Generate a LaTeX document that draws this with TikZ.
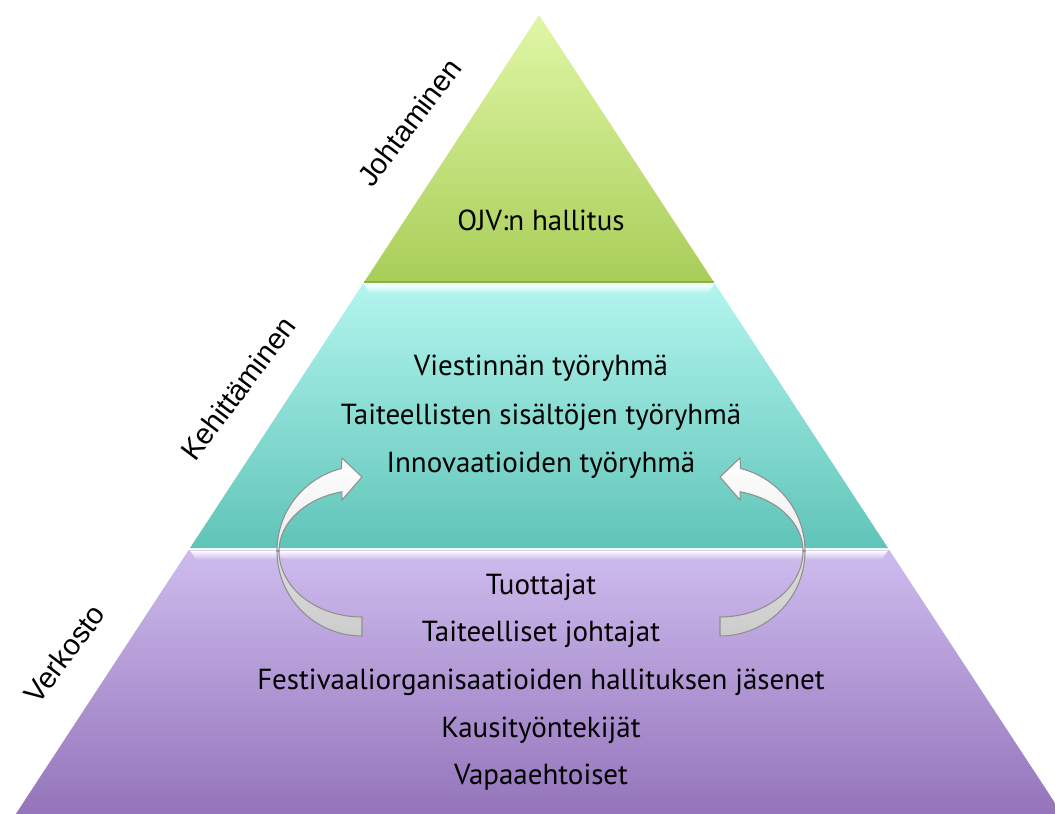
\documentclass[tikz,border=0pt]{standalone}
\usepackage{fontspec}
\setmainfont{PT Sans}
\newfontfamily\labelfont{Liberation Sans}
\definecolor{gTop}{HTML}{E0F7A6}
\definecolor{gBot}{HTML}{A9CD58}
\definecolor{gLine}{HTML}{8DB04A}
\definecolor{cTop}{HTML}{B2F5EE}
\definecolor{cBot}{HTML}{60C4B8}
\definecolor{pTop}{HTML}{CEBCEE}
\definecolor{pBot}{HTML}{9474BB}
\definecolor{arLine}{HTML}{8F8F8F}
\begin{document}
\begin{tikzpicture}[x=0.02cm,y=0.02cm,
  every node/.style={inner sep=0pt},
  tiertext/.style={font=\fontsize{16.5}{19}\selectfont, text=black},
  sidelabel/.style={font=\labelfont\fontsize{16.6}{19}\selectfont, rotate=53, anchor=base},
  arrowtop/.style={draw=arLine, line width=0.6pt, top color=white, bottom color=black!8},
  arrowbot/.style={draw=arLine, line width=0.6pt, top color=black!13, bottom color=black!20},
  hilite/.style={top color=white, bottom color=#1}]
\clip (0,0) rectangle (1055,-814);
\fill[white] (0,0) rectangle (1055,-814);
% tiers
\shade[top color=gTop, bottom color=gBot] (539,-15) -- (713.8,-282) -- (364.2,-282) -- cycle;
\draw[gLine, line width=0.8pt] (364.2,-282) -- (713.8,-282);
\shade[top color=cTop, bottom color=cBot] (362.9,-284) -- (715.1,-284) -- (888,-548) -- (190,-548) -- cycle;
\shade[hilite=cTop] (364,-284.5) -- (714,-284.5) -- (708,-293) -- (370,-293) -- cycle;
\shade[top color=pTop, bottom color=pBot] (188.7,-550) -- (889.3,-550) -- (1062.2,-814) -- (15.8,-814) -- cycle;
\shade[hilite=pTop] (190,-550.5) -- (888,-550.5) -- (882,-559) -- (196,-559) -- cycle;
% left curved arrow
\path[arrowbot] (277,-551) arc[start angle=180, end angle=270, radius=85]
  -- (362,-617) arc[start angle=270, end angle=180, x radius=83, y radius=66] -- cycle;
\path[arrowtop] (277,-551) arc[start angle=180, end angle=104, radius=85]
  -- (342,-458) -- (362,-477) -- (342,-500) -- (341.9,-491.8)
  arc[start angle=104, end angle=180, x radius=83, y radius=61] -- cycle;
% right curved arrow
\path[arrowbot] (805,-551) arc[start angle=0, end angle=-90, radius=85]
  -- (720,-617) arc[start angle=-90, end angle=0, x radius=83, y radius=66] -- cycle;
\path[arrowtop] (805,-551) arc[start angle=0, end angle=76, radius=85]
  -- (740,-458) -- (720,-477) -- (740,-500) -- (740.1,-491.8)
  arc[start angle=76, end angle=0, x radius=83, y radius=61] -- cycle;
% texts
\node[tiertext] (t1) at (541,-220) {OJV:n hallitus};
\node[tiertext] (m1) at (541,-368) {Viestinnän työryhmä};
\node[tiertext] (m2) at (541,-417) {Taiteellisten sisältöjen työryhmä};
\node[tiertext] (m3) at (541,-465) {Innovaatioiden työryhmä};
\node[tiertext] (b1) at (541,-587) {Tuottajat};
\node[tiertext] (b2) at (541,-634) {Taiteelliset johtajat};
\node[tiertext] (b3) at (541,-682) {Festivaaliorganisaatioiden hallituksen jäsenet};
\node[tiertext] (b4) at (541,-730) {Kausityöntekijät};
\node[tiertext] (b5) at (541,-777) {Vapaaehtoiset};
% side labels
\node[sidelabel] (l1) at (417.5,-128.5) {Johtaminen};
\node[sidelabel] (l2) at (246.5,-395) {Kehittäminen};
\node[sidelabel] (l3) at (72.5,-660) {Verkosto};
\end{tikzpicture}
\end{document}
